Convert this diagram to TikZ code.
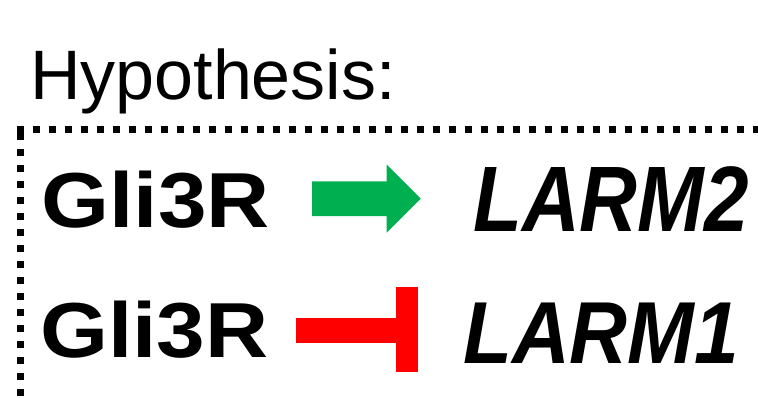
\documentclass[tikz,border=0pt]{standalone}
\usepackage{fontspec}
\setmainfont{Liberation Sans}
\definecolor{actgreen}{HTML}{00B050}
\definecolor{inhred}{HTML}{FF0000}
\begin{document}
\begin{tikzpicture}[x=1pt,y=-1pt,
  label/.style={inner sep=0pt, anchor=base west},
  gene/.style={label, font=\bfseries\itshape},
  factor/.style={label, font=\bfseries},
  dotted border/.style={line width=7pt, line cap=butt, dash pattern=on 7pt off 9pt}]
\useasboundingbox (0,0) rectangle (758,398);
\fill[white] (0,0) rectangle (758,398);

% heading
\node[label, font=\fontsize{70}{70}\selectfont] (hyp) at (30,100) {Hypothesis:};

% dotted frame (top and left sides)
\coordinate (corner) at (20.5,129.7);
\draw[dotted border] ([xshift=-3.8pt]corner) -- ++(760,0);
\draw[dotted border] ([yshift=-3.7pt]corner) -- ++(0,280);

% first row: activation
\node[factor, font=\bfseries\fontsize{78}{78}\selectfont] (g1) at (41.5,227.8) {\scalebox{1.12}[1]{Gli3R}};
\node[gene, font=\bfseries\itshape\fontsize{93}{93}\selectfont] (l2) at (473,231.5) {\scalebox{0.86}[1]{LARM2}};
\coordinate (a1) at (312,198.7);
\coordinate (a2) at (420.7,198.7);
\fill[actgreen] (a1) ++(0,-17.35) -- ++(74.7,0) -- ++(0,-16.65) -- (a2)
  -- ++(-34,34) -- ++(0,-16.65) -- ++(-74.7,0) -- cycle;

% second row: repression
\node[factor, font=\bfseries\fontsize{78}{78}\selectfont] (g2) at (40,357.8) {\scalebox{1.12}[1]{Gli3R}};
\node[gene, font=\bfseries\itshape\fontsize{88}{88}\selectfont] (l1) at (463,363) {\scalebox{0.91}[1]{LARM1}};
\coordinate (r1) at (296,330.35);
\coordinate (r2) at (418,330.35);
\fill[inhred] (r1) ++(0,-12.35) rectangle ++(100,24.7);
\fill[inhred] (r2) ++(-22,-43.65) rectangle ++(22,85);
\end{tikzpicture}
\end{document}
